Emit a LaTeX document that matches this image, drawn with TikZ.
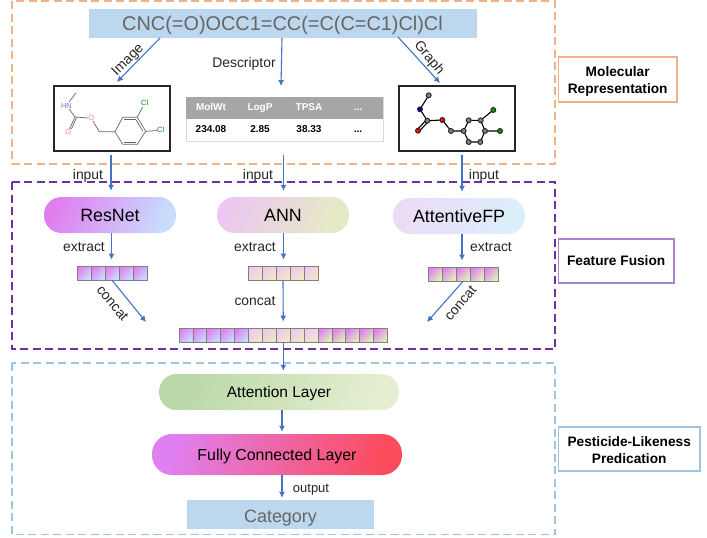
\documentclass[tikz,border=0pt]{standalone}
\usepackage{fontspec}
\setmainfont{Liberation Sans}
\usetikzlibrary{arrows.meta,calc}
\definecolor{flow}{HTML}{4472C4}
\definecolor{boxblue}{HTML}{BDD7EE}
\definecolor{dashorange}{HTML}{F4B183}
\definecolor{dashpurple}{HTML}{7030A0}
\definecolor{dashblue}{HTML}{9DC3E6}
\definecolor{legpurple}{HTML}{A884CC}
\definecolor{headgray}{HTML}{A6A6A6}
\definecolor{txtgray}{HTML}{666666}
\definecolor{E1}{HTML}{E080F0}
\definecolor{C8}{HTML}{C8DCFC}
\definecolor{EDC8}{HTML}{EDC8F0}
\definecolor{CellY}{HTML}{F3E6C4}
\definecolor{CellG}{HTML}{E1F0B8}
\definecolor{AnnR}{HTML}{E4EBC4}
\definecolor{AfpL}{HTML}{EBDDF5}
\definecolor{AfpR}{HTML}{DCEFFB}
\definecolor{AttL}{HTML}{BAD8A8}
\definecolor{AttR}{HTML}{E4EED0}
\definecolor{FcR}{HTML}{FB4C5C}
\tikzset{
  flowarrow/.style={draw=flow,line width=1.1pt,-{Latex[length=6pt,width=6pt]}},
  group/.style={line width=1.2pt,dash pattern=on 8pt off 4.5pt},
  label/.style={font=\fontsize{13.9}{14}\selectfont,text=black!85,inner sep=0pt,text height=10pt,text depth=0pt},
  bluebox/.style={fill=boxblue,draw=none,inner sep=0pt},
  pill/.style={rounded corners=17.5pt,minimum height=36pt,inner sep=0pt,font=\fontsize{17.8}{18}\selectfont},
  pillshade/.style 2 args={left color=#1,right color=#2,shading angle=65},
  legend/.style={fill=white,line width=1.2pt,inner sep=0pt},
  legendtext/.style={align=center,inner sep=0pt,font=\fontsize{13.7}{17}\selectfont\bfseries},
  cell/.style={draw=black!50,line width=0.8pt,minimum width=14pt,minimum height=14pt,inner sep=0pt},
  cella/.style={cell,left color=E1,right color=C8,shading angle=45},
  cellb/.style={cell,left color=EDC8,right color=CellY,shading angle=45},
  cellc/.style={cell,left color=E1,right color=CellG,shading angle=45},
  bond/.style={line width=0.7pt,draw=black!60},
  atom/.style={font=\fontsize{7.5}{8}\selectfont,inner sep=0.5pt,fill=white},
  gbond/.style={line width=1.1pt,draw=black},
  gnode/.style={circle,draw=black!85,line width=0.9pt,fill=#1,minimum size=5pt,inner sep=0pt},
  thead/.style={font=\fontsize{10}{11}\selectfont\bfseries,text=white,inner sep=0pt,text height=7.2pt,text depth=0pt},
  tval/.style={font=\fontsize{10}{11}\selectfont\bfseries,text=black,inner sep=0pt,text height=7.2pt,text depth=0pt}
}
\begin{document}
\begin{tikzpicture}[x=1pt,y=-1pt]
\useasboundingbox[fill=white] (0,0) rectangle (707,538);
% group frames
\draw[group,draw=dashorange] (12,1) rectangle (555,164);
\draw[group,draw=dashpurple] (12,182) rectangle (555,349);
\draw[group,draw=dashblue] (12,363) rectangle (555,534.5);
% SMILES
\node[bluebox,minimum width=388pt,minimum height=29pt,text=txtgray,font=\fontsize{19.9}{20}\selectfont,text height=14.4pt,text depth=0pt] (smiles) at (282.5,23.5) {CNC(=O)OCC1=CC(=C(C=C1)Cl)Cl};
% structure panels
\node[draw=black!85,line width=1.2pt,minimum width=116pt,minimum height=65pt,inner sep=0pt] (imgbox) at (112,118.5) {};
\node[draw=black!85,line width=1.2pt,minimum width=116pt,minimum height=65pt,inner sep=0pt] (graphbox) at (457,118.5) {};
% 2D molecule
\coordinate (a1) at (76,92.7);
\coordinate (aN) at (66.5,105.5);
\coordinate (aC) at (75,117);
\coordinate (aO1) at (68.3,131.7);
\coordinate (aO2) at (91.3,118.3);
\coordinate (aCH) at (99.3,131.7);
\coordinate (r1) at (115,131.7);
\coordinate (r2) at (122.7,117.3);
\coordinate (r3) at (137.3,117.3);
\coordinate (r4) at (145.7,131.3);
\coordinate (r5) at (137.3,144.3);
\coordinate (r6) at (122.7,144.3);
\coordinate (c1) at (144.7,103.3);
\coordinate (c2) at (160.7,130.3);
\draw[bond] (a1)--(aN)--(aC)--(aO2)--(aCH)--(r1)--(r2)--(r3)--(r4)--(r5)--(r6)--(r1);
\draw[bond] (r3)--(c1) (r4)--(c2);
\draw[bond] (aC)--(aO1);
\draw[bond] ($(aC)+(1.6,0.6)$)--($(aO1)+(1.6,0.6)$);
\draw[bond] ($(r2)+(1.5,2.2)$)--($(r3)+(-1.5,2.2)$);
\draw[bond] ($(r5)+(-1.5,-2.2)$)--($(r6)+(1.5,-2.2)$);
\draw[bond] ($(r4)+(-2.8,0)$)--($(r3)+(-1.2,2.6)$);
\node[atom,text=blue!55] (lN) at (aN) {HN};
\node[atom,text=red!45] (lO1) at (aO1) {O};
\node[atom,text=red!45] (lO2) at (aO2) {O};
\node[atom,text=green!60!black] (lC1) at (c1) {Cl};
\node[atom,text=green!60!black] (lC2) at (c2) {Cl};
% graph molecule
\coordinate (g1) at (428.7,95.3);
\coordinate (gN) at (420,109.3);
\coordinate (gC) at (427.3,120.7);
\coordinate (gO1) at (418,130.7);
\coordinate (gO2) at (442.3,120);
\coordinate (gH) at (451,131);
\coordinate (q1) at (463.7,131);
\coordinate (q2) at (468.7,120.3);
\coordinate (q3) at (480.7,120.3);
\coordinate (q4) at (485,131);
\coordinate (q5) at (480.3,142);
\coordinate (q6) at (468.7,142);
\coordinate (gc1) at (493.3,110);
\coordinate (gc2) at (500,131);
\draw[gbond] (g1)--(gN)--(gC)--(gO2)--(gH)--(q1)--(q2)--(q3)--(q4)--(q5)--(q6)--(q1);
\draw[gbond] (q3)--(gc1) (q4)--(gc2);
\draw[gbond] ($(gC)+(-1,-0.8)$)--($(gO1)+(-1,-0.8)$);
\draw[gbond] ($(gC)+(1,0.8)$)--($(gO1)+(1,0.8)$);
\foreach \p/\c in {g1/gray,gC/gray,gH/gray,q1/gray,q2/gray,q3/gray,q4/gray,q5/gray,q6/gray,gN/blue!70!black,gO1/red,gO2/red,gc1/green!60!black,gc2/green!60!black}
  \node[gnode=\c] (n\p) at (\p) {};
% table
\node[fill=white,draw=black!15,line width=1pt,minimum width=197pt,minimum height=44pt,inner sep=0pt] (tbl) at (284.5,119) {};
\node[fill=headgray,minimum width=197pt,minimum height=22.5pt,inner sep=0pt] (thd) at (284.5,108) {};
\node[thead] (h1) at (211,107) {MolWt};
\node[thead] (h2) at (260,107) {LogP};
\node[thead] (h3) at (309,107) {TPSA};
\node[thead] (h4) at (358,107) {...};
\node[tval] (v1) at (211,129) {234.08};
\node[tval] (v2) at (260,129) {2.85};
\node[tval] (v3) at (309,129) {38.33};
\node[tval] (v4) at (358,129) {...};
% smiles arrows
\coordinate (s1) at (160,38);
\coordinate (s1e) at (117,82);
\coordinate (s2) at (282,38);
\coordinate (s2e) at (281,86);
\coordinate (s3) at (398,37);
\coordinate (s3e) at (440,83);
\draw[flowarrow] (s1)--(s1e);
\draw[flowarrow] (s2)--(s2e);
\draw[flowarrow] (s3)--(s3e);
\node[label,rotate=45] (limg) at (127,59) {Image};
\node[label] (ldesc) at (244,62.5) {Descriptor};
\node[label,rotate=-50] (lgraph) at (430,57) {Graph};
% model pills
\node[pill,pillshade={E1}{C8},minimum width=132pt] (resnet) at (110,215) {ResNet};
\node[pill,pillshade={EDC8}{AnnR},minimum width=132pt] (ann) at (283,215) {ANN};
\node[pill,pillshade={AfpL}{AfpR},minimum width=132pt] (afp) at (459,216) {AttentiveFP};
% input
\coordinate (i1) at (111,155);
\coordinate (i2) at (283.5,155);
\coordinate (i3) at (462,155);
\draw[flowarrow,shorten >=6pt] (i1)--(i1 |- resnet.north);
\draw[flowarrow,shorten >=6pt] (i2)--(i2 |- ann.north);
\draw[flowarrow,shorten >=6pt] (i3)--(i3 |- afp.north);
\node[label] (li1) at (88,174) {input};
\node[label] (li2) at (258,174) {input};
\node[label] (li3) at (484,174) {input};
% feature rows
\foreach \i in {0,...,4} {
  \node[cella] (ra\i) at ({84.1+14*\i},273) {};
  \node[cellb] (rb\i) at ({255+14*\i},273) {};
  \node[cellc] (rc\i) at ({435+14*\i},274) {};
}
\foreach \i in {0,...,4} {
  \node[cella] (la\i) at ({186+13.9*\i},335) {};
  \node[cellb] (lb\i) at ({255.5+13.9*\i},335) {};
  \node[cellc] (lc\i) at ({325+13.9*\i},335) {};
}
% extract
\coordinate (e1) at (111.5,233);
\coordinate (e2) at (283.5,233);
\coordinate (e3) at (462,234);
\draw[flowarrow,shorten >=6pt] (e1)--(e1 |- ra2.north);
\draw[flowarrow,shorten >=6pt] (e2)--(e2 |- rb2.north);
\draw[flowarrow,shorten >=6pt] (e3)--(e3 |- rc2.north);
\node[label] (le1) at (84,246) {extract};
\node[label] (le2) at (255,246) {extract};
\node[label] (le3) at (491,246) {extract};
% concat
\coordinate (k1) at (146,322);
\coordinate (k3) at (427,322);
\draw[flowarrow] (ra2.south)--(k1);
\draw[flowarrow,shorten >=6pt] (rb2.south)--(lb2.north);
\draw[flowarrow] (rc2.south)--(k3);
\node[label,rotate=-50] (lk1) at (113,303) {concat};
\node[label] (lk2) at (255,300) {concat};
\node[label,rotate=50] (lk3) at (460,303) {concat};
% lower stack
\node[pill,pillshade={AttL}{AttR},minimum width=240pt,font=\fontsize{15.5}{16}\selectfont,text height=11.2pt,text depth=0pt] (att) at (279,392) {Attention Layer};
\node[pill,rounded corners=20pt,left color=E1,right color=FcR,shading angle=75,minimum width=250pt,minimum height=41pt,font=\fontsize{15.9}{16}\selectfont,text height=12pt,text depth=0pt] (fc) at (277,454.5) {Fully Connected Layer};
\node[bluebox,minimum width=187pt,minimum height=29pt,text=txtgray,font=\fontsize{17.9}{18}\selectfont,text height=15pt,text depth=0pt] (cat) at (280.5,514.5) {Category};
\draw[flowarrow,shorten >=3pt] (lb2.south)--(lb2.south |- att.north);
\coordinate (o1) at (282,410);
\coordinate (o2) at (282,475);
\draw[flowarrow,shorten >=2pt] (o1)--(o1 |- fc.north);
\draw[flowarrow,shorten >=2pt] (o2)--(o2 |- cat.north);
\node[label,font=\fontsize{13}{14}\selectfont] (lout) at (311,487.7) {output};
% legends
\node[legend,draw=dashorange,minimum width=118.5pt,minimum height=45pt] (leg1) at (617.7,79.5) {};
\node[legendtext] (leg1t) at (617.7,81) {Molecular\\Representation};
\node[legend,draw=legpurple,minimum width=115.5pt,minimum height=44pt] (leg2) at (616.2,261) {};
\node[legendtext] (leg2t) at (616.2,261) {Feature Fusion};
\node[legend,draw=dashblue,minimum width=141.5pt,minimum height=44pt] (leg3) at (629.2,449) {};
\node[legendtext] (leg3t) at (629.2,450) {Pesticide-Likeness\\Predication};
\end{tikzpicture}
\end{document}
